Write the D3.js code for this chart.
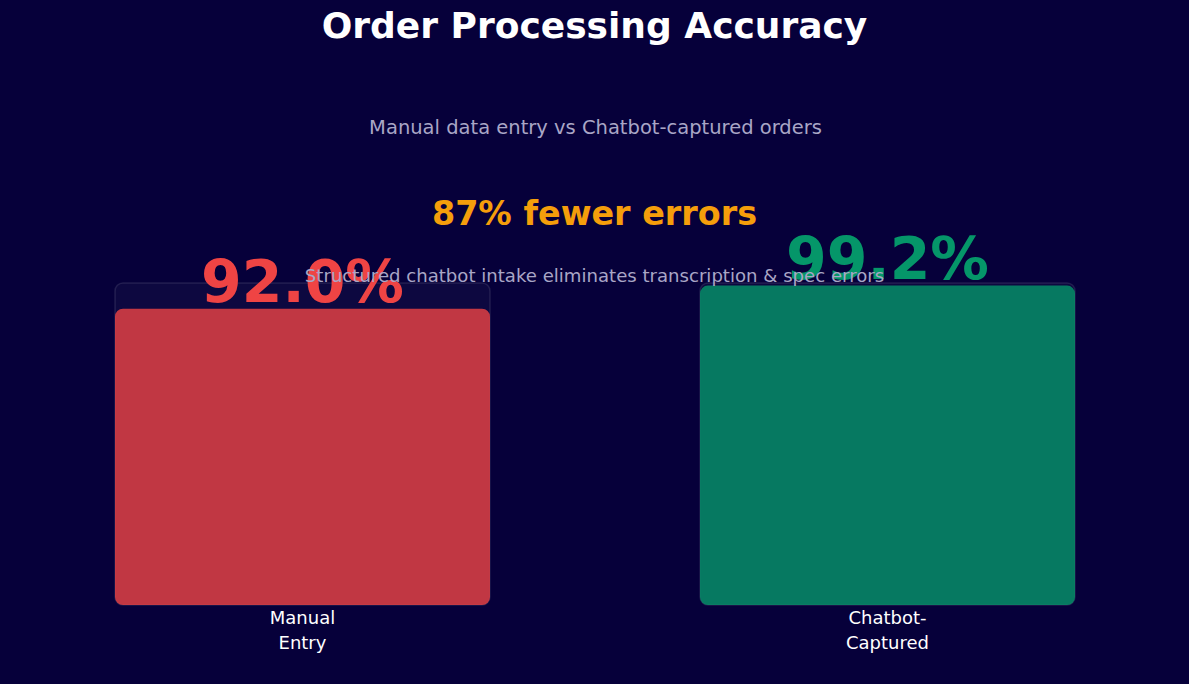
<!DOCTYPE html>
<html><head><meta charset="utf-8">
<script src="https://cdn.jsdelivr.net/npm/d3@7"></script>
<style>html,body{margin:0;padding:0;background:#06003a;}svg{display:block;}</style>
</head><body>
<div id="chart"></div>
<script>
const categories = ["Manual Entry", "Chatbot-Captured"];
const labelLines = [["Manual", "Entry"], ["Chatbot-", "Captured"]];
const values = [92.0, 99.2];
const colors = ["#ef4444", "#059669"];
const title = "Order Processing Accuracy";
const subtitle = "Manual data entry vs Chatbot-captured orders";
const headline = "87% fewer errors";
const note = "Structured chatbot intake eliminates transcription & spec errors";

const W = 1189, H = 684;
const svg = d3.select("#chart").append("svg").attr("width", W).attr("height", H)
  .style("font-family", "'DejaVu Sans', sans-serif");
svg.append("rect").attr("width", W).attr("height", H).attr("fill", "#06003a");

const x = d3.scaleBand().domain(categories).range([115, 1075]).paddingInner(0.359).paddingOuter(0);
const y = d3.scaleLinear().domain([0, 100]).range([605, 283]);

// tracks
svg.selectAll(".track").data(categories).join("rect")
  .attr("x", d => x(d)).attr("y", y(100)).attr("width", x.bandwidth())
  .attr("height", y(0) - y(100)).attr("rx", 8)
  .attr("fill", "#ffffff").attr("fill-opacity", 0.03)
  .attr("stroke", "#ffffff").attr("stroke-opacity", 0.1).attr("stroke-width", 1.5);

// bars
svg.selectAll(".bar").data(values).join("rect")
  .attr("x", (d, i) => x(categories[i])).attr("y", d => y(d))
  .attr("width", x.bandwidth()).attr("height", d => y(0) - y(d)).attr("rx", 8)
  .attr("fill", (d, i) => colors[i]).attr("fill-opacity", 0.8);

// titles
svg.append("text").attr("x", W / 2).attr("y", 38).attr("text-anchor", "middle")
  .attr("fill", "#ffffff").attr("font-weight", "bold").attr("font-size", 36).text(title);
svg.append("text").attr("x", W / 2 + 1).attr("y", 134).attr("text-anchor", "middle")
  .attr("fill", "#a9a6c6").attr("font-size", 19.5).text(subtitle);
svg.append("text").attr("x", W / 2).attr("y", 225).attr("text-anchor", "middle")
  .attr("fill", "#f59e0b").attr("font-weight", "bold").attr("font-size", 33.4).text(headline);

// value labels
svg.selectAll(".val").data(values).join("text")
  .attr("x", (d, i) => x(categories[i]) + x.bandwidth() / 2)
  .attr("y", d => y(d) - 7)
  .attr("text-anchor", "middle").attr("fill", (d, i) => colors[i])
  .attr("font-weight", "bold").attr("font-size", 58.5)
  .text(d => d.toFixed(1) + "%");

svg.append("text").attr("x", W / 2).attr("y", 282).attr("text-anchor", "middle")
  .attr("fill", "#a9a6c6").attr("font-size", 18.1).text(note);

// category labels
const lab = svg.selectAll(".lab").data(categories).join("text")
  .attr("x", d => x(d) + x.bandwidth() / 2).attr("y", 624)
  .attr("text-anchor", "middle").attr("fill", "#ffffff").attr("font-size", 18);
lab.each(function(d, i) {
  labelLines[i].forEach((t, j) => {
    d3.select(this).append("tspan").attr("x", x(d) + x.bandwidth() / 2)
      .attr("dy", j === 0 ? 0 : 24.5).text(t);
  });
});
</script>
</body></html>
